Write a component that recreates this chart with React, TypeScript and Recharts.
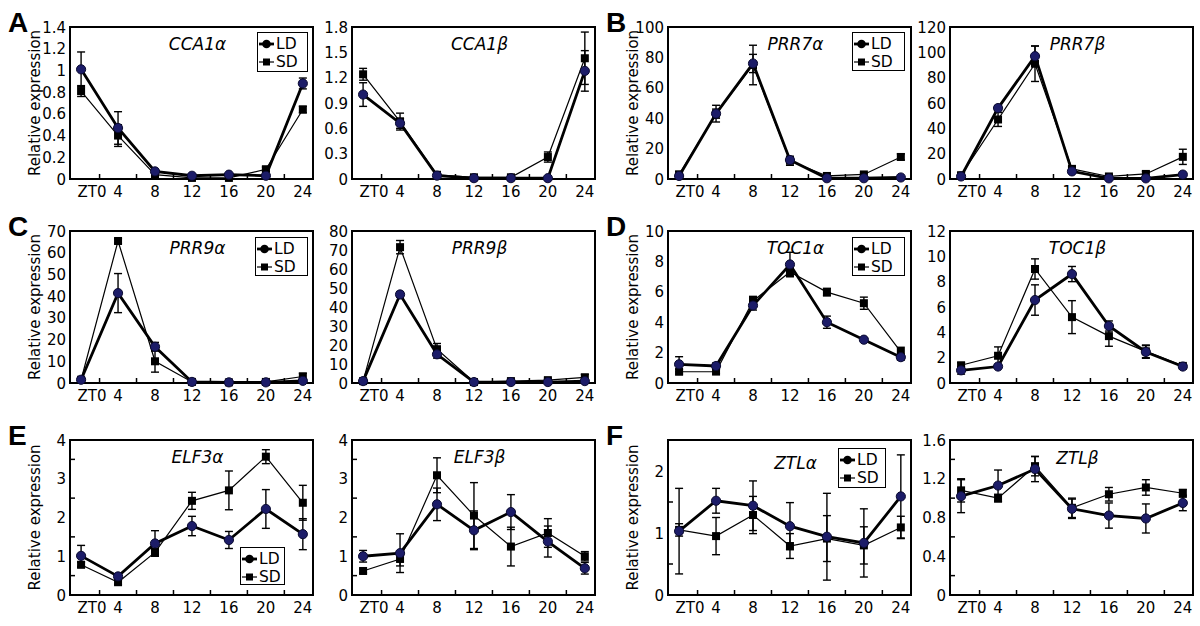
import React from 'react';
import { LineChart, Line, XAxis, YAxis, ErrorBar, ReferenceArea, Legend } from 'recharts';

const hours = [0, 4, 8, 12, 16, 20, 24];
const hourLabels = ['ZT0', '4', '8', '12', '16', '20', '24'];
const hourMidTicks = [2, 6, 10, 14, 18, 22];
const seriesNames = ['LD', 'SD'];

// A - CCA1
const cca1aLD = [1.01, 0.47, 0.07, 0.03, 0.04, 0.03, 0.88];
const cca1aLDErr = [0.16, 0.15, 0.02, 0.01, 0.01, 0.01, 0.05];
const cca1aSD = [0.81, 0.4, 0.04, 0.01, 0.01, 0.09, 0.64];
const cca1aSDErr = [0.05, 0.1, 0.01, 0.01, 0.01, 0.02, 0.03];
const cca1aTicks = [0, 0.2, 0.4, 0.6, 0.8, 1, 1.2, 1.4];

const cca1bLD = [1.0, 0.66, 0.04, 0.01, 0.01, 0.01, 1.28];
const cca1bLDErr = [0.14, 0.06, 0.01, 0.01, 0.01, 0.01, 0.24];
const cca1bSD = [1.24, 0.68, 0.05, 0.02, 0.02, 0.26, 1.43];
const cca1bSDErr = [0.07, 0.1, 0.02, 0.01, 0.01, 0.06, 0.31];
const cca1bTicks = [0, 0.3, 0.6, 0.9, 1.2, 1.5, 1.8];

// B - PRR7
const prr7aLD = [2, 43, 76, 12.5, 0.5, 0.5, 1];
const prr7aLDErr = [1, 3, 6, 2, 0.3, 0.3, 0.5];
const prr7aSD = [3, 43, 75, 12, 2, 3, 14.5];
const prr7aSDErr = [2, 5.5, 13, 3, 1.5, 1, 2];
const prr7aTicks = [0, 20, 40, 60, 80, 100];

const prr7bLD = [2, 56, 97, 6, 0.5, 0.5, 3.5];
const prr7bLDErr = [1, 2, 8, 1.5, 0.3, 0.3, 1];
const prr7bSD = [3, 47, 91, 8, 2, 4, 17.5];
const prr7bSDErr = [2, 5.5, 14, 2, 1.5, 2, 6];
const prr7bTicks = [0, 20, 40, 60, 80, 100, 120];

// C - PRR9
const prr9aLD = [1.5, 41.4, 16.7, 0.5, 0.3, 0.3, 1];
const prr9aLDErr = [0.5, 9, 2, 0.3, 0.2, 0.2, 0.5];
const prr9aSD = [1.5, 65.4, 10, 0.5, 0.3, 0.5, 3];
const prr9aSDErr = [0.8, 1, 5, 0.3, 0.2, 0.3, 1.5];
const prr9aTicks = [0, 10, 20, 30, 40, 50, 60, 70];

const prr9bLD = [1, 46.6, 15.1, 0.5, 0.5, 0.5, 1];
const prr9bLDErr = [0.5, 1.5, 2, 0.3, 0.3, 0.3, 0.5];
const prr9bSD = [1, 71.5, 17.8, 0.5, 1, 1.5, 3];
const prr9bSDErr = [0.5, 3.5, 3, 0.3, 1, 1, 1.5];
const prr9bTicks = [0, 10, 20, 30, 40, 50, 60, 70, 80];

// D - TOC1
const toc1aLD = [1.23, 1.12, 5.1, 7.8, 4.0, 2.85, 1.7];
const toc1aLDErr = [0.5, 0.2, 0.3, 0.8, 0.4, 0.12, 0.2];
const toc1aSD = [0.74, 0.75, 5.4, 7.3, 5.98, 5.25, 2.05];
const toc1aSDErr = [0.15, 0.15, 0.3, 0.3, 0.25, 0.4, 0.3];
const toc1aTicks = [0, 2, 4, 6, 8, 10];

const toc1bLD = [1.0, 1.3, 6.55, 8.6, 4.5, 2.45, 1.3];
const toc1bLDErr = [0.3, 0.1, 1.2, 0.6, 0.4, 0.5, 0.1];
const toc1bSD = [1.4, 2.15, 9.0, 5.2, 3.7, 2.5, 1.35];
const toc1bSDErr = [0.2, 0.7, 0.8, 1.3, 0.8, 0.5, 0.15];
const toc1bTicks = [0, 2, 4, 6, 8, 10, 12];

// E - ELF3
const elf3aLD = [1.01, 0.48, 1.33, 1.78, 1.42, 2.22, 1.57];
const elf3aLDErr = [0.27, 0.07, 0.33, 0.25, 0.22, 0.5, 0.4];
const elf3aSD = [0.78, 0.33, 1.1, 2.43, 2.7, 3.57, 2.38];
const elf3aSDErr = [0.07, 0.05, 0.1, 0.22, 0.5, 0.18, 0.45];

const elf3bLD = [1.0, 1.08, 2.34, 1.67, 2.14, 1.38, 0.69];
const elf3bLDErr = [0.15, 0.5, 0.42, 0.5, 0.45, 0.4, 0.15];
const elf3bSD = [0.62, 0.93, 3.09, 2.05, 1.25, 1.6, 1.0];
const elf3bSDErr = [0.05, 0.18, 0.45, 0.85, 0.5, 0.37, 0.12];
const elf3Ticks = [0, 1, 2, 3, 4];
const elf3MinorTicks = [0.5, 1.5, 2.5, 3.5];

// F - ZTL
const ztlaLD = [1.03, 1.52, 1.44, 1.11, 0.94, 0.84, 1.59];
const ztlaLDErr = [0.69, 0.2, 0.4, 0.38, 0.7, 0.55, 0.67];
const ztlaSD = [1.05, 0.95, 1.29, 0.79, 0.91, 0.8, 1.09];
const ztlaSDErr = [0.1, 0.3, 0.3, 0.2, 0.37, 0.3, 0.18];
const ztlaTicks = [0, 1, 2];
const ztlaMinorTicks = [0.5, 1.5];

const ztlbLD = [1.02, 1.13, 1.3, 0.89, 0.82, 0.79, 0.95];
const ztlbLDErr = [0.17, 0.16, 0.13, 0.1, 0.13, 0.15, 0.08];
const ztlbSD = [1.08, 1.0, 1.33, 0.9, 1.04, 1.11, 1.05];
const ztlbSDErr = [0.12, 0.04, 0.1, 0.1, 0.07, 0.08, 0.04];
const ztlbTicks = [0, 0.4, 0.8, 1.2, 1.6];
const ztlbMinorTicks = [0.2, 0.6, 1.0, 1.4];

const FONT = '"DejaVu Sans", Verdana, sans-serif';
const X_DOMAIN: [number, number] = [-1.2, 25.1];
const TOP_PAD = 12;
const X_AXIS_H = 30;
const ROWS = [
  { top: 27, h: 152 },
  { top: 231, h: 152 },
  { top: 440, h: 155 },
];
const HALF_X = [0, 598];
const LEFT_W = 320;
const RIGHT_W = 280;

type Gene = {
  name: string;
  ld: number[];
  ldErr: number[];
  sd: number[];
  sdErr: number[];
  yMax: number;
  yMajor: number[];
  yMinor: number[];
  titleDy?: number;
};

const genes: Gene[] = [
  { name: 'CCA1α', ld: cca1aLD, ldErr: cca1aLDErr, sd: cca1aSD, sdErr: cca1aSDErr, yMax: 1.4, yMajor: cca1aTicks, yMinor: [] },
  { name: 'CCA1β', ld: cca1bLD, ldErr: cca1bLDErr, sd: cca1bSD, sdErr: cca1bSDErr, yMax: 1.8, yMajor: cca1bTicks, yMinor: [] },
  { name: 'PRR7α', ld: prr7aLD, ldErr: prr7aLDErr, sd: prr7aSD, sdErr: prr7aSDErr, yMax: 100, yMajor: prr7aTicks, yMinor: [] },
  { name: 'PRR7β', ld: prr7bLD, ldErr: prr7bLDErr, sd: prr7bSD, sdErr: prr7bSDErr, yMax: 120, yMajor: prr7bTicks, yMinor: [] },
  { name: 'PRR9α', ld: prr9aLD, ldErr: prr9aLDErr, sd: prr9aSD, sdErr: prr9aSDErr, yMax: 70, yMajor: prr9aTicks, yMinor: [] },
  { name: 'PRR9β', ld: prr9bLD, ldErr: prr9bLDErr, sd: prr9bSD, sdErr: prr9bSDErr, yMax: 80, yMajor: prr9bTicks, yMinor: [] },
  { name: 'TOC1α', ld: toc1aLD, ldErr: toc1aLDErr, sd: toc1aSD, sdErr: toc1aSDErr, yMax: 10, yMajor: toc1aTicks, yMinor: [] },
  { name: 'TOC1β', ld: toc1bLD, ldErr: toc1bLDErr, sd: toc1bSD, sdErr: toc1bSDErr, yMax: 12, yMajor: toc1bTicks, yMinor: [] },
  { name: 'ELF3α', ld: elf3aLD, ldErr: elf3aLDErr, sd: elf3aSD, sdErr: elf3aSDErr, yMax: 4, yMajor: elf3Ticks, yMinor: elf3MinorTicks },
  { name: 'ELF3β', ld: elf3bLD, ldErr: elf3bLDErr, sd: elf3bSD, sdErr: elf3bSDErr, yMax: 4, yMajor: elf3Ticks, yMinor: elf3MinorTicks },
  { name: 'ZTLα', ld: ztlaLD, ldErr: ztlaLDErr, sd: ztlaSD, sdErr: ztlaSDErr, yMax: 2.5, yMajor: ztlaTicks, yMinor: ztlaMinorTicks, titleDy: 6 },
  { name: 'ZTLβ', ld: ztlbLD, ldErr: ztlbLDErr, sd: ztlbSD, sdErr: ztlbSDErr, yMax: 1.6, yMajor: ztlbTicks, yMinor: ztlbMinorTicks, titleDy: 1 },
];

// panel letter, gene pair, column, row, legend box (relative to left chart)
const panels = [
  { letter: 'A', pair: [0, 1], col: 0, row: 0, legend: { left: 257, top: 5, w: 51, h: 40 } },
  { letter: 'B', pair: [2, 3], col: 1, row: 0, legend: { left: 254, top: 5, w: 53, h: 39 } },
  { letter: 'C', pair: [4, 5], col: 0, row: 1, legend: { left: 255, top: 6, w: 53, h: 39 } },
  { letter: 'D', pair: [6, 7], col: 1, row: 1, legend: { left: 254, top: 6, w: 53, h: 39 } },
  { letter: 'E', pair: [8, 9], col: 0, row: 2, legend: { left: 240, top: 107, w: 45, h: 38 } },
  { letter: 'F', pair: [10, 11], col: 1, row: 2, legend: { left: 240, top: 8, w: 48, h: 40 } },
];

const xTicks = [...hours, ...hourMidTicks].sort((a, b) => a - b);

function XTick(props: any) {
  const { x, payload, bottom } = props;
  const v = payload.value;
  if (hourMidTicks.includes(v)) {
    return <line x1={x} x2={x} y1={bottom} y2={bottom - 5} stroke="#000" strokeWidth={1.5} />;
  }
  const i = hours.indexOf(v);
  return (
    <text x={x + (v === 0 ? 11 : 0)} y={bottom + 18} textAnchor="middle" fontFamily={FONT} fontSize={15} fill="#000">
      {hourLabels[i]}
    </text>
  );
}

function YTick(props: any) {
  const { y, payload, plotLeft, majors } = props;
  const v = payload.value;
  if (majors.includes(v)) {
    return (
      <text x={plotLeft - 4} y={y + 5.5} textAnchor="end" fontFamily={FONT} fontSize={15} fill="#000">
        {String(v)}
      </text>
    );
  }
  return <line x1={plotLeft} x2={plotLeft + 5} y1={y} y2={y} stroke="#000" strokeWidth={1.5} />;
}

function LegendBox({ w, h }: { w: number; h: number }) {
  return (
    <div
      style={{
        width: w,
        height: h,
        boxSizing: 'border-box',
        border: '1.5px solid #000',
        background: '#fff',
        fontFamily: FONT,
        fontSize: 15.5,
        paddingTop: 2,
        paddingLeft: 0,
      }}
    >
      {seriesNames.map((name) => (
        <div key={name} style={{ display: 'flex', alignItems: 'center', height: 18 }}>
          <svg width={17} height={18}>
            <line x1={1} x2={16} y1={9} y2={9} stroke="#000" strokeWidth={name === 'LD' ? 2.8 : 1.2} />
            {name === 'LD' ? (
              <circle cx={8.5} cy={9} r={4.3} fill="#000" />
            ) : (
              <rect x={5} y={5.5} width={7} height={7} fill="#000" />
            )}
          </svg>
          <span style={{ marginLeft: 1, lineHeight: '18px' }}>{name}</span>
        </div>
      ))}
    </div>
  );
}

function GenePlot({ g, isLeft, left, row, legend }: { g: Gene; isLeft: boolean; left: number; row: { top: number; h: number }; legend?: { left: number; top: number; w: number; h: number } }) {
  const yw = isLeft ? 70 : 32;
  const width = isLeft ? LEFT_W : RIGHT_W;
  const mRight = isLeft ? 7 : 5;
  const height = TOP_PAD + row.h + X_AXIS_H;
  const bottom = TOP_PAD + row.h;
  const data = hours.map((h, i) => ({ h, ld: g.ld[i], ldErr: g.ldErr[i], sd: g.sd[i], sdErr: g.sdErr[i] }));
  const yTicks = [...g.yMajor, ...g.yMinor].sort((a, b) => a - b);

  return (
    <div style={{ position: 'absolute', left, top: row.top - TOP_PAD }}>
      <LineChart width={width} height={height} data={data} margin={{ top: TOP_PAD, right: mRight, bottom: 0, left: 0 }}>
        <XAxis
          dataKey="h"
          type="number"
          domain={X_DOMAIN}
          ticks={xTicks}
          interval={0}
          height={X_AXIS_H}
          axisLine={false}
          tickLine={false}
          tick={(p: any) => <XTick {...p} bottom={bottom} />}
        />
        <YAxis
          type="number"
          domain={[0, g.yMax]}
          ticks={yTicks}
          interval={0}
          width={yw}
          axisLine={false}
          tickLine={false}
          tick={(p: any) => <YTick {...p} plotLeft={yw} majors={g.yMajor} />}
        />
        <ReferenceArea x1={X_DOMAIN[0]} x2={X_DOMAIN[1]} y1={0} y2={g.yMax} fill="none" stroke="#000" strokeWidth={2} ifOverflow="visible" />
        <Line
          dataKey="sd"
          name="SD"
          stroke="#000"
          strokeWidth={1.2}
          isAnimationActive={false}
          activeDot={false}
          dot={(p: any) => <rect key={`s${p.index}`} x={p.cx - 4} y={p.cy - 4} width={8} height={8} fill="#000" />}
        >
          <ErrorBar dataKey="sdErr" direction="y" width={4} stroke="#000" strokeWidth={1.4} />
        </Line>
        <Line
          dataKey="ld"
          name="LD"
          stroke="#000"
          strokeWidth={2.8}
          isAnimationActive={false}
          activeDot={false}
          dot={(p: any) => <circle key={`c${p.index}`} cx={p.cx} cy={p.cy} r={4.6} fill="#1c1c68" stroke="#0a0a30" strokeWidth={1} />}
        >
          <ErrorBar dataKey="ldErr" direction="y" width={4} stroke="#000" strokeWidth={1.4} />
        </Line>
        {legend && (
          <Legend
            layout="horizontal"
            verticalAlign="middle"
            align="center"
            wrapperStyle={{ left: legend.left, top: legend.top + TOP_PAD, width: legend.w, height: legend.h }}
            content={() => <LegendBox w={legend.w} h={legend.h} />}
          />
        )}
      </LineChart>
    </div>
  );
}

export default function App() {
  return (
    <div style={{ position: 'absolute', left: 0, top: 0, width: 1200, height: 626, background: '#fff', overflow: 'hidden' }}>
      {panels.map((p) => {
        const hx = HALF_X[p.col];
        const row = ROWS[p.row];
        return (
          <React.Fragment key={p.letter}>
            <GenePlot g={genes[p.pair[0]]} isLeft left={hx} row={row} legend={p.legend} />
            <GenePlot g={genes[p.pair[1]]} isLeft={false} left={hx + LEFT_W} row={row} />
          </React.Fragment>
        );
      })}
      <svg width={1200} height={626} style={{ position: 'absolute', left: 0, top: 0, pointerEvents: 'none' }}>
        {panels.map((p) => {
          const hx = HALF_X[p.col];
          const row = ROWS[p.row];
          const cy = row.top + row.h / 2;
          const lg = genes[p.pair[0]];
          const rg = genes[p.pair[1]];
          const leftCenter = hx + 70 + (LEFT_W - 7 - 70) / 2 + 6;
          const rightCenter = hx + LEFT_W + 32 + (RIGHT_W - 5 - 32) / 2 + 6;
          return (
            <g key={p.letter}>
              <text x={hx + 8} y={row.top + 5} fontFamily='"Liberation Sans", Arial, sans-serif' fontWeight="bold" fontSize={28} fill="#000">
                {p.letter}
              </text>
              <text transform={`translate(${hx + 40}, ${cy}) rotate(-90)`} textAnchor="middle" fontFamily={FONT} fontSize={15} fill="#000">
                Relative expression
              </text>
              <text x={leftCenter} y={row.top + 23 + (lg.titleDy || 0)} textAnchor="middle" fontFamily={FONT} fontStyle="italic" fontSize={17} fill="#000">
                {lg.name}
              </text>
              <text x={rightCenter} y={row.top + 23 + (rg.titleDy || 0)} textAnchor="middle" fontFamily={FONT} fontStyle="italic" fontSize={17} fill="#000">
                {rg.name}
              </text>
            </g>
          );
        })}
      </svg>
    </div>
  );
}
